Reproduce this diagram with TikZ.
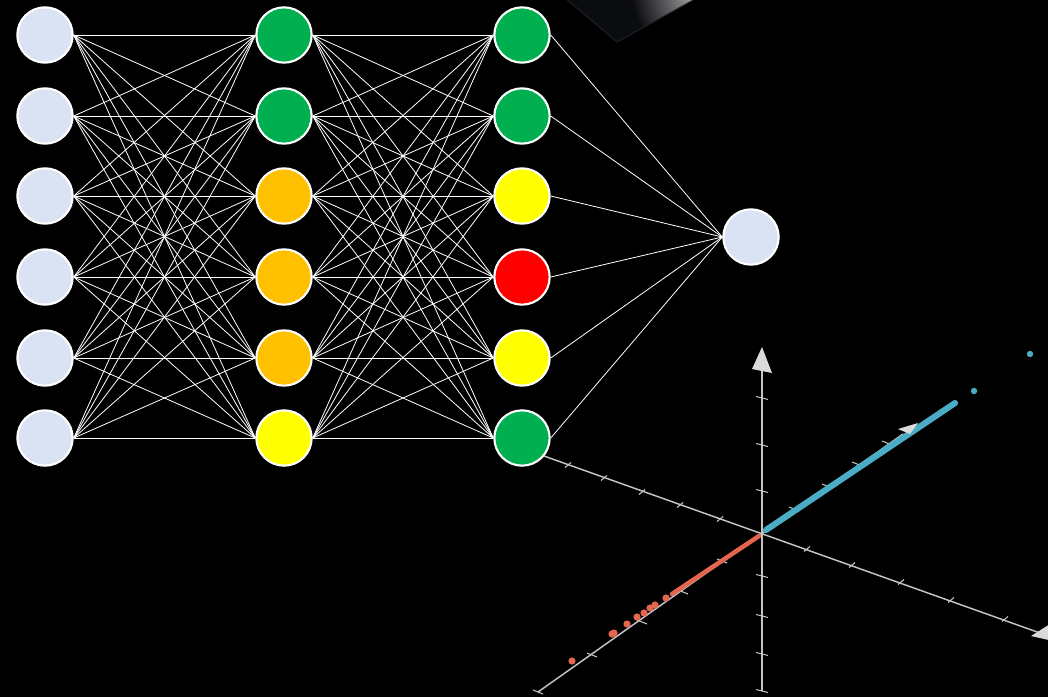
\documentclass[tikz,border=0pt]{standalone}
\usetikzlibrary{calc}
\definecolor{nblue}{HTML}{DAE3F3}
\definecolor{ngreen}{HTML}{00B050}
\definecolor{norange}{HTML}{FFC000}
\definecolor{nyellow}{HTML}{FFFF00}
\definecolor{nred}{HTML}{FF0000}
\definecolor{axisgray}{HTML}{C4C4C4}
\definecolor{tipgray}{HTML}{DADADA}
\definecolor{ptblue}{HTML}{4BACC6}
\definecolor{ptred}{HTML}{E5664E}
\definecolor{shapedark}{HTML}{0B0C0F}
\definecolor{shapeedge}{HTML}{1C1F28}
\begin{document}
\begin{tikzpicture}[x=0.75pt,y=-0.75pt,
  neuron/.style={circle,draw=white,line width=1.6pt,minimum size=41.5pt,inner sep=0pt},
  conn/.style={white,line width=0.6pt},
  axisline/.style={axisgray,line width=1.1pt},
  tickmark/.style={axisgray,line width=0.8pt},
  arrowtip/.style={fill=tipgray,draw=none}]
\fill[black] (0,0) rectangle (1048,697);
\useasboundingbox (0,0) rectangle (1048,697);
\clip (0,0) rectangle (1048,697);

% top dark shape with glint
\begin{scope}
  \clip (565,-2) -- (617,42) -- (697,-2) -- cycle;
  \fill[shapedark] (560,-2) rectangle (700,45);
  \shade[inner color=gray!50, outer color=shapedark] (705,-8) circle (55pt);
\end{scope}
\draw[shapeedge,line width=0.8pt] (565,-2) -- (617,42) -- (697,-2);

% 3D axes
\coordinate (O) at (762,533);
\coordinate (ztop) at (762,370);
\coordinate (zbot) at (762,691);
\coordinate (xl) at (530,451);
\coordinate (xr) at (1040,633);
\coordinate (yl) at (538,692);
\coordinate (yr) at (903,434);
\draw[axisline] (zbot) -- (ztop);
\draw[axisline] (xl) -- (xr);
\draw[axisline] (yl) -- (yr);

% ticks vertical axis
\foreach \y in {398,445,491,576,616,654,691}
  \draw[tickmark] (756,{\y-1.5}) -- (768,{\y+1.5});
% ticks on axis going right-down
\foreach \x/\y in {568/465,604/478,642/492,680/505,720/519,807/549,852/565,901/582,951/600,1005/619}
  \draw[tickmark] ({\x-3},{\y+2.5}) -- ({\x+3},{\y-2.5});
% ticks on axis going left-down
\foreach \x/\y in {538/692,592/655,642/622,683/592,722/561,794/509,827/486,857/464,887/443}
  \draw[tickmark] ({\x-5},{\y-2}) -- ({\x+5},{\y+2});

% data points
\draw[ptred,line width=3.4pt,line cap=round] (759,536) -- (672,594);
\foreach \x/\y in {666/598,655/605,650/608,644/613,637/617,627/624,614/633,612/634,572/661}
  \fill[ptred] (\x,\y) circle (2.7pt);
\draw[ptblue,line width=4.6pt,line cap=round] (766,530) -- (955,403);
\foreach \x/\y in {974/391,1030/354}
  \fill[ptblue] (\x,\y) circle (2.4pt);

% arrow heads
\fill[arrowtip] (762,347) -- (772,373) -- (752,369) -- cycle;
\fill[arrowtip] (1031,636) -- (1050,624) -- (1062,643) -- cycle;
\fill[arrowtip] (898,429) -- (918,423) -- (910,434) -- cycle;

% network
\foreach \n/\y in {1/35,2/116,3/196,4/277,5/358,6/438}
  \node[neuron,fill=nblue] (i\n) at (45,\y) {};
\foreach \n/\y/\c in {1/35/ngreen,2/116/ngreen,3/196/norange,4/277/norange,5/358/norange,6/438/nyellow}
  \node[neuron,fill=\c] (h\n) at (284,\y) {};
\foreach \n/\y/\c in {1/35/ngreen,2/116/ngreen,3/196/nyellow,4/277/nred,5/358/nyellow,6/438/ngreen}
  \node[neuron,fill=\c] (g\n) at (522,\y) {};
\node[neuron,fill=nblue] (o) at (751,237) {};

\foreach \a in {1,...,6}
  \foreach \b in {1,...,6} {
    \draw[conn] (i\a.east) -- (h\b.west);
    \draw[conn] (h\a.east) -- (g\b.west);
  }
\foreach \a in {1,...,6}
  \draw[conn] (g\a.east) -- (o.west);
\end{tikzpicture}
\end{document}
